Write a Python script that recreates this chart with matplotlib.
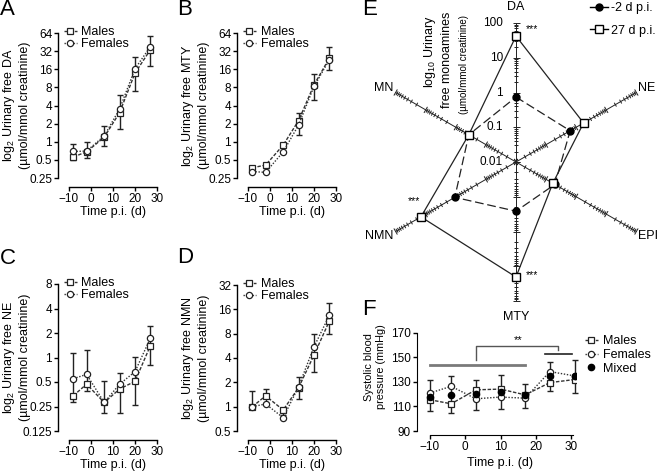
import numpy as np
import matplotlib
matplotlib.use('Agg')
import matplotlib.pyplot as plt
from matplotlib.lines import Line2D
from matplotlib.collections import LineCollection
from matplotlib.ticker import NullLocator

plt.rcParams['font.family'] = ['Liberation Sans', 'DejaVu Sans']
plt.rcParams['mathtext.fontset'] = 'custom'
plt.rcParams['mathtext.rm'] = 'Liberation Sans'
plt.rcParams['mathtext.it'] = 'Liberation Sans:italic'
plt.rcParams['font.size'] = 8.5

# ---------------- data ----------------
days = [-8, -2, 6, 13, 20, 27]

da_m = [0.56, 0.68, 1.19, 3.05, 13.8, 33.8]
da_f = [0.69, 0.70, 1.25, 3.5, 16.3, 38]
da_lo = [0.50, 0.54, 0.86, 1.64, 7.0, 18.3]
da_hi = [0.92, 1.0, 1.8, 6.0, 25.5, 58]

mty_m = [0.37, 0.41, 0.88, 2.25, 8.8, 24.6]
mty_f = [0.32, 0.31, 0.68, 1.9, 8.3, 23]
mty_lo = [0.33, 0.36, 0.80, 1.3, 4.9, 15.7]
mty_hi = [0.40, 0.44, 0.95, 3.05, 13.5, 38]

ne_m = [0.34, 0.47, 0.28, 0.41, 0.51, 1.4]
ne_f = [0.55, 0.62, 0.28, 0.47, 0.67, 1.73]
ne_lo = [0.28, 0.39, 0.21, 0.21, 0.26, 0.81]
ne_hi = [1.15, 1.24, 0.52, 0.64, 1.02, 2.45]

nmn_m = [1.0, 1.36, 0.91, 1.72, 4.35, 11.5]
nmn_f = [1.0, 1.08, 0.73, 1.77, 5.5, 13.5]
nmn_lo = [0.95, 1.1, 0.78, 1.23, 2.7, 8.0]
nmn_hi = [1.58, 1.64, 0.97, 2.35, 7.9, 19]

radar_labels = ['DA', 'NE', 'EPI', 'MTY', 'NMN', 'MN']
radar_angles = [90, 30, -30, -90, -150, 150]
radar_m2 = [0.74, 0.63, 0.195, 0.26, 1.08, 0.37]
radar_27 = [42, 1.76, 0.167, 20.4, 14.4, 0.37]
radar_ticklabels = ['100', '10', '1', '0.1', '0.01']
radar_min = 0.01

bp_days = [-10, -4, 3, 10, 17, 24, 31]
bp_m = [115.5, 112.2, 123.6, 124.2, 119.5, 129.5, 132]
bp_f = [121, 126.5, 116.3, 117.7, 116.8, 138.5, 135]
bp_x = [118, 119, 120, 121.7, 119.5, 134.5, 134.5]
bp_lo = [106, 104.5, 107.5, 108, 109, 123, 121]
bp_hi = [131.5, 135, 132, 135.5, 128.5, 146.5, 148]

W, H = 660, 474
fig = plt.figure(figsize=(6.6, 4.74), dpi=100)


def px_axes(l, t, r, b):
    return fig.add_axes([l / W, 1 - b / H, (r - l) / W, (b - t) / H])


def fx(x):
    return x / W


def fy(y):
    return 1 - y / H


DARK = '#222222'
LAB = 9


def time_panel(l, t, b, ylim, yticks, ylabel, m, f, lo, hi, letter, letter_xy):
    ax = px_axes(l, t, l + 46 * 2.2, b)
    ax.set_yscale('log', base=2)
    ax.set_xlim(-15, 31)
    ax.set_ylim(*ylim)
    ax.set_yticks(yticks, [('%g' % v) for v in yticks])
    ax.yaxis.set_minor_locator(NullLocator())
    ax.set_xticks([-10, 0, 10, 20, 30])
    for s in ['top', 'right']:
        ax.spines[s].set_visible(False)
    ax.spines['bottom'].set_position(('outward', 6.5))
    ax.spines['bottom'].set_bounds(-10, 30)
    ax.spines['left'].set_bounds(*ylim)
    for s in ['bottom', 'left']:
        ax.spines[s].set_linewidth(1.0)
    ax.tick_params(direction='out', length=3, width=1, pad=1.2, labelsize=8.5)
    ax.patch.set_visible(False)
    m = np.array(m); lo = np.array(lo); hi = np.array(hi)
    ax.errorbar(days, m, yerr=[m - lo, hi - m], fmt='none', ecolor=DARK,
                elinewidth=1, capsize=2.5, capthick=1, zorder=2, clip_on=False)
    lm, = ax.plot(days, m, ls=(0, (2.5, 1.2)), color='#333333', lw=1,
                  marker='s', ms=4.5, mfc='white', mec=DARK, mew=0.9,
                  zorder=3, clip_on=False, label='Males')
    lf, = ax.plot(days, f, ls=(0, (1, 1.2)), color='#333333', lw=1,
                  marker='o', ms=4.5, mfc='white', mec=DARK, mew=0.9,
                  zorder=3, clip_on=False, label='Females')
    ax.legend(handles=[lm, lf], loc='upper left', frameon=False,
              bbox_to_anchor=(fx(l + 6), fy(t - 7)), bbox_transform=fig.transFigure,
              handlelength=1.0, handletextpad=0.4, labelspacing=0.0,
              borderpad=0, borderaxespad=0, fontsize=LAB)
    fig.text(fx(16 + (l - 58)), fy((t + b) / 2), ylabel, rotation=90,
             ha='center', va='center', multialignment='center',
             linespacing=1.2, fontsize=LAB)
    fig.text(fx(l + 55), fy(b + 34), 'Time p.i. (d)', ha='center', va='center',
             fontsize=LAB)
    fig.text(fx(letter_xy[0]), fy(letter_xy[1]), letter, fontsize=16,
             ha='left', va='top')
    return ax


time_panel(58, 33, 178, (0.25, 64), [0.25, 0.5, 1, 2, 4, 8, 16, 32, 64],
           'log$_{2}$ Urinary free DA\n(µmol/mmol creatinine)',
           da_m, da_f, da_lo, da_hi, 'A', (0, -1))
time_panel(237, 33, 178, (0.25, 64), [0.25, 0.5, 1, 2, 4, 8, 16, 32, 64],
           'log$_{2}$ Urinary free MTY\n(µmol/mmol creatinine)',
           mty_m, mty_f, mty_lo, mty_hi, 'B', (177, -1))
time_panel(58, 284, 431, (0.125, 8), [0.125, 0.25, 0.5, 1, 2, 4, 8],
           'log$_{2}$ Urinary free NE\n(µmol/mmol creatinine)',
           ne_m, ne_f, ne_lo, ne_hi, 'C', (0, 248))
time_panel(237, 285, 431, (0.5, 32), [0.5, 1, 2, 4, 8, 16, 32],
           'log$_{2}$ Urinary free NMN\n(µmol/mmol creatinine)',
           nmn_m, nmn_f, nmn_lo, nmn_hi, 'D', (177, 247))

# ---------------- panel E: radar ----------------
S = 34.75
cx, cy = 516, 162
axE = px_axes(370, 0, 660, 320)
axE.set_xlim((370 - cx) / S, (660 - cx) / S)
axE.set_ylim(-(320 - cy) / S, cy / S)
axE.axis('off')

R = np.log10(100) - np.log10(radar_min)
th = np.deg2rad(radar_angles)
segs = []
for a in th:
    d = np.array([np.cos(a), np.sin(a)])
    n = np.array([-np.sin(a), np.cos(a)])
    segs.append([(0, 0), tuple(R * d)])
    for dec in range(int(R)):
        for k in range(1, 10):
            r = dec + np.log10(k)
            ln = (3.5 if k == 1 else 2.2) / S
            p = r * d
            segs.append([tuple(p - n * ln), tuple(p + n * ln)])
    p = R * d
    segs.append([tuple(p - n * 3.5 / S), tuple(p + n * 3.5 / S)])
axE.add_collection(LineCollection(segs, colors='#222222', linewidths=0.7))


def radar_xy(vals):
    r = np.log10(np.array(vals)) - np.log10(radar_min)
    x = r * np.cos(th)
    y = r * np.sin(th)
    return np.append(x, x[0]), np.append(y, y[0])


x2, y2 = radar_xy(radar_m2)
x27, y27 = radar_xy(radar_27)
axE.plot(x2, y2, ls=(0, (7, 3)), color='#222222', lw=0.9, zorder=3, clip_on=False)
axE.plot(x2[:-1], y2[:-1], ls='none', marker='o', ms=5, mfc='black', mec='black',
         zorder=4, clip_on=False)
axE.plot(x27, y27, ls='-', color='#222222', lw=0.9, zorder=3, clip_on=False)
axE.plot(x27[:-1], y27[:-1], ls='none', marker='s', ms=5.5, mfc='white', mec='black',
         mew=1, zorder=5, clip_on=False)

for i, lab in enumerate(radar_ticklabels):
    axE.text(-13 / S, R - i, lab, ha='right', va='center', fontsize=8.5)

for lab, a in zip(radar_labels, th):
    c, s_ = np.cos(a), np.sin(a)
    if abs(c) < 0.1:
        x, y = 0, (R + 0.45) * s_
        ha = 'center'
    else:
        x = R * c + (2 / S if c > 0 else -2 / S)
        y = R * s_ + 0.12 * np.sign(s_)
        ha = 'left' if c > 0 else 'right'
    axE.text(x, y, lab, ha=ha, va='center', fontsize=LAB, clip_on=False)

# significance stars on DA, NMN, MTY for 27 d
star_idx = [0, 4, 3]
star_off = [(0.45, 0.2), (-0.2, 0.45), (0.45, 0.05)]
for i, (ox, oy) in zip(star_idx, star_off):
    axE.text(x27[i] + ox, y27[i] + oy, '***', ha='center', va='center', fontsize=7.5)

fig.text(fx(430), fy(52), 'log$_{10}$ Urinary', rotation=90, ha='center', va='center',
         fontsize=LAB)
fig.text(fx(447), fy(60), 'free monoamines', rotation=90, ha='center', va='center',
         fontsize=LAB)
fig.text(fx(464), fy(64), '(µmol/mmol creatinine)', rotation=90, ha='center',
         va='center', fontsize=7)

hE = [Line2D([], [], color='black', lw=1, marker='o', ms=5, mfc='black'),
      Line2D([], [], color='black', lw=1, marker='s', ms=5.5, mfc='white')]
axE.legend(hE, ['-2 d p.i.', '27 d p.i.'], loc='upper right', frameon=False,
           bbox_to_anchor=(fx(656), fy(2)), bbox_transform=fig.transFigure,
           handlelength=1.4, handletextpad=0.3, labelspacing=0.85, borderpad=0,
           borderaxespad=0, fontsize=LAB)
fig.text(fx(362), fy(-1), 'E', fontsize=16, ha='left', va='top')

# ---------------- panel F ----------------
pxd = 3.525
axF = px_axes(417, 333, 430 + 41.5 * pxd, 431)
axF.set_xlim(-10 - 13 / pxd, 31.5)
axF.set_ylim(90, 170)
axF.set_yticks([90, 110, 130, 150, 170])
axF.set_xticks([-10, 0, 10, 20, 30])
for s in ['top', 'right']:
    axF.spines[s].set_visible(False)
axF.spines['bottom'].set_position(('outward', 3))
axF.spines['bottom'].set_bounds(-10, 30.5)
axF.tick_params(direction='out', length=3, width=1, pad=1.5, labelsize=8.5)
axF.patch.set_visible(False)
bx = np.array(bp_x); blo = np.array(bp_lo); bhi = np.array(bp_hi)
axF.errorbar(bp_days, bx, yerr=[bx - blo, bhi - bx], fmt='none', ecolor=DARK,
             elinewidth=1, capsize=2.5, capthick=1, zorder=2, clip_on=False)
fm, = axF.plot(bp_days, bp_m, ls=(0, (2.5, 1.2)), color='#333333', lw=1, marker='s',
               ms=4.5, mfc='white', mec=DARK, mew=0.9, zorder=3, label='Males')
ff, = axF.plot(bp_days, bp_f, ls=(0, (1, 1.2)), color='#333333', lw=1, marker='o',
               ms=4.5, mfc='white', mec=DARK, mew=0.9, zorder=3, label='Females')
fx_, = axF.plot(bp_days, bp_x, ls='none', marker='o', ms=4.5, mfc='black', mec='black',
                zorder=4, label='Mixed')
axF.plot([-10, 17], [143.5, 143.5], color='#7a7a7a', lw=2, clip_on=False)
axF.plot([3, 3, 26.3, 26.3], [148, 159, 159, 156], color='#555555', lw=1, clip_on=False)
axF.plot([22.6, 30.3], [152.8, 152.8], color='#222222', lw=1.2, clip_on=False)
axF.text(15, 164.5, '**', ha='center', va='center', fontsize=8)
axF.legend(handles=[fm, ff, fx_], loc='upper left', frameon=False,
           bbox_to_anchor=(fx(585), fy(335)), bbox_transform=fig.transFigure,
           handlelength=1.0, handletextpad=0.4, labelspacing=0.15, borderpad=0,
           borderaxespad=0, fontsize=LAB)
fig.text(fx(375), fy(367), 'Systolic blood\npressure (mmHg)', rotation=90,
         ha='center', va='center', multialignment='center', linespacing=1.2,
         fontsize=7.8)
fig.text(fx(500), fy(463), 'Time p.i. (d)', ha='center', va='center', fontsize=LAB)
fig.text(fx(362), fy(299), 'F', fontsize=16, ha='left', va='top')

fig.savefig('out.png', dpi=100)
